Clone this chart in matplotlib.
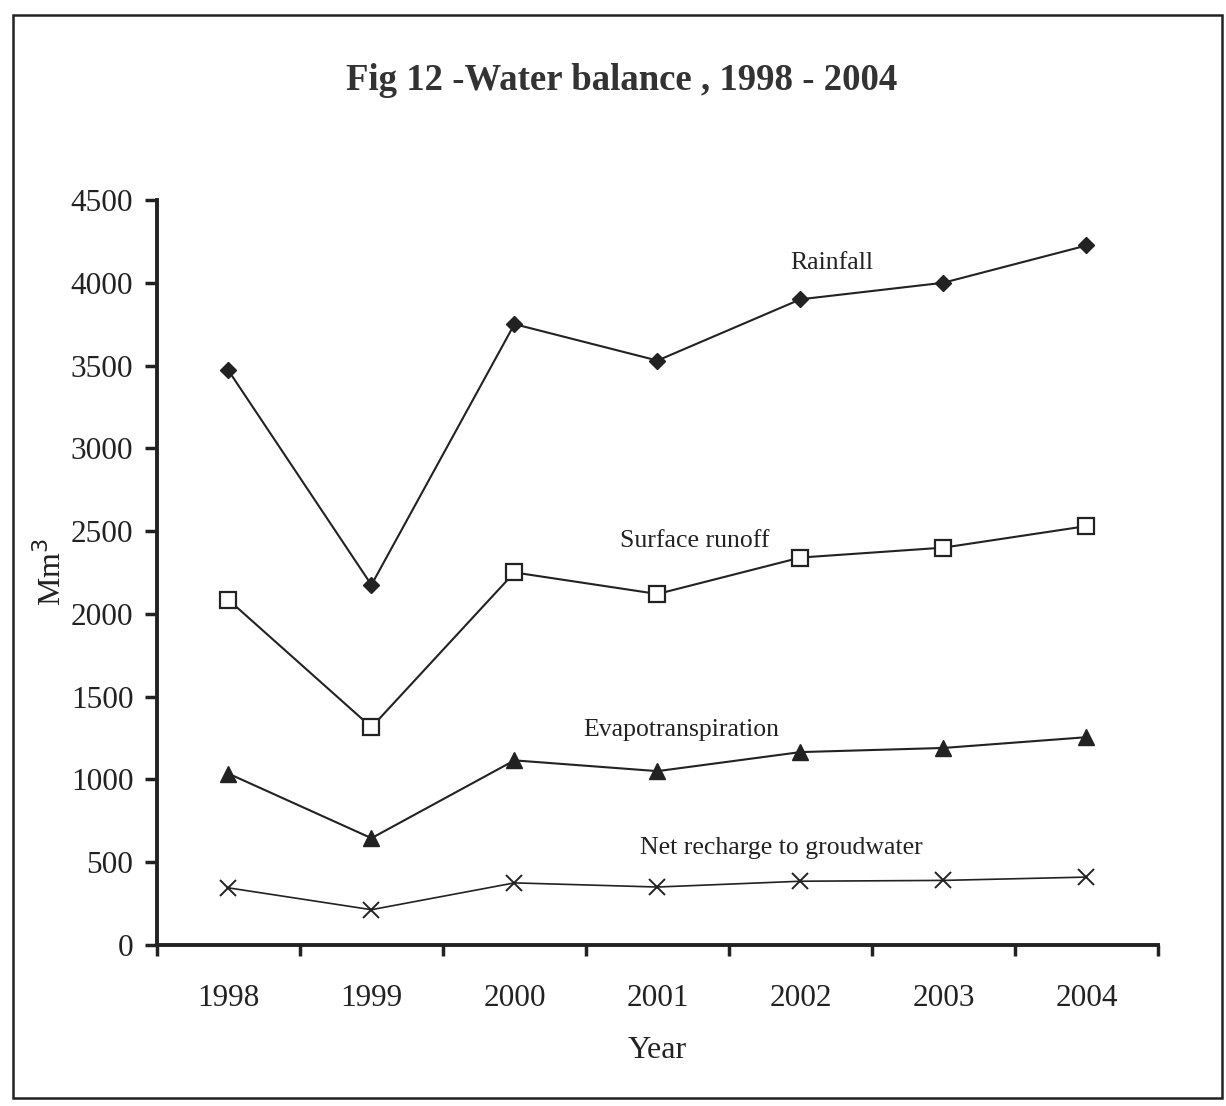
import numpy as np
import matplotlib.pyplot as plt
from matplotlib.patches import Rectangle

# === DATA ===
years = ["1998", "1999", "2000", "2001", "2002", "2003", "2004"]
rainfall = [3470, 2175, 3750, 3530, 3900, 4000, 4225]
surface_runoff = [2085, 1315, 2250, 2120, 2340, 2400, 2530]
evapotranspiration = [1035, 645, 1115, 1050, 1165, 1190, 1255]
net_recharge = [345, 213, 375, 350, 385, 390, 410]

plt.rcParams["font.family"] = ["Liberation Serif", "DejaVu Serif"]
ink = "#222222"

fig = plt.figure(figsize=(12.26, 11.06), dpi=100)
ax = fig.add_axes([0.128, 0.1456, 0.8165, 0.6736])

x = np.arange(len(years))
ax.plot(x, rainfall, color=ink, lw=1.5, marker="D", ms=8, mfc=ink, mec=ink)
ax.plot(x, surface_runoff, color=ink, lw=1.5, marker="s", ms=12, mfc="white", mec=ink, mew=1.6)
ax.plot(x, evapotranspiration, color=ink, lw=1.5, marker="^", ms=11, mfc=ink, mec=ink)
ax.plot(x, net_recharge, color=ink, lw=1.2, marker="x", ms=11, mec=ink, mew=1.4)

# series labels placed in the plot
lab_kw = dict(fontsize=18.5, color=ink, ha="center", va="center")
ax.text(4.22, 4120, "Rainfall", **lab_kw)
ax.text(3.26, 2440, "Surface runoff", **lab_kw)
ax.text(3.17, 1300, "Evapotranspiration", **lab_kw)
ax.text(3.87, 585, "Net recharge to groudwater", **lab_kw)

# axes styling (Excel-like)
ax.set_xlim(-0.5, len(years) - 0.5)
ax.set_ylim(0, 4500)
ax.set_yticks(np.arange(0, 4501, 500))
ax.set_xticks(x)
ax.set_xticklabels(years)
ax.set_xticks(np.arange(-0.5, len(years), 1.0), minor=True)
ax.tick_params(axis="x", which="major", length=0, pad=28, labelsize=22.5, colors=ink)
ax.tick_params(axis="x", which="minor", length=8, width=2.5, direction="out", color=ink)
ax.tick_params(axis="y", length=9, width=2.5, direction="out", pad=8, labelsize=22.5, colors=ink)

for s in ["top", "right"]:
    ax.spines[s].set_visible(False)
for s in ["left", "bottom"]:
    ax.spines[s].set_linewidth(2.8)
    ax.spines[s].set_color(ink)

ax.set_xlabel("Year", fontsize=23, color=ink, labelpad=17)
ax.set_ylabel("Mm$^3$", fontsize=23, color=ink, labelpad=2)

fig.text(0.507, 0.927, "Fig 12 -Water balance , 1998 - 2004", fontsize=26.5,
         fontweight="bold", color="#333333", ha="center", va="center")

# outer frame of the figure
fig.add_artist(Rectangle((13 / 1226, 1 - 1098 / 1106), (1222 - 13) / 1226, (1098 - 15) / 1106,
                         transform=fig.transFigure, fill=False, lw=1.8, ec=ink))

plt.savefig("out.png", dpi=100)
plt.close()
